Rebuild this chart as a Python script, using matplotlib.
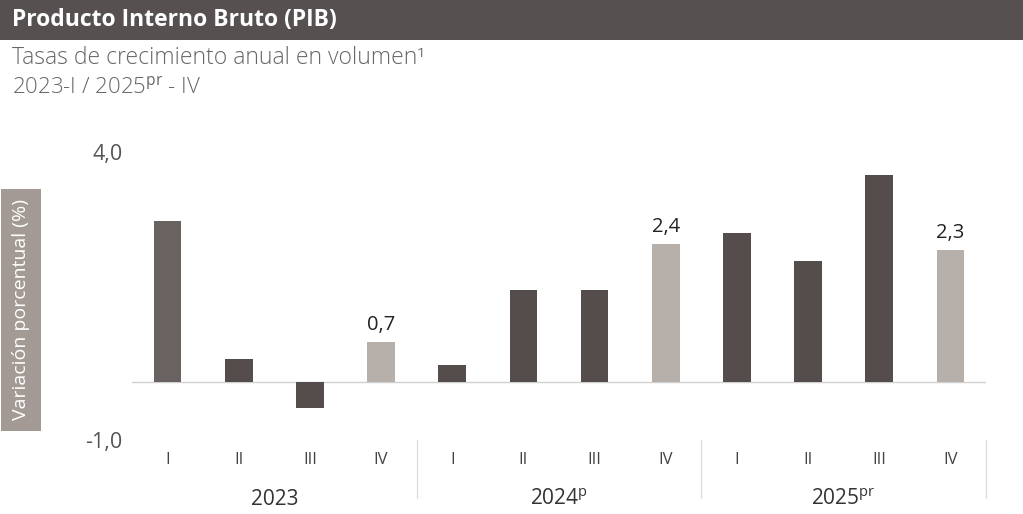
import matplotlib
matplotlib.use("Agg")
import matplotlib.pyplot as plt
from matplotlib.patches import Rectangle
from matplotlib.transforms import blended_transform_factory

plt.rcParams['font.family'] = ['Open Sans', 'DejaVu Sans']
plt.rcParams['mathtext.fontset'] = 'custom'
plt.rcParams['mathtext.rm'] = 'Open Sans'

quarters = ["I", "II", "III", "IV"] * 3
years = ["2023", "2024$^{\\mathrm{p}}$", "2025$^{\\mathrm{pr}}$"]
values = [2.8, 0.4, -0.45, 0.7, 0.3, 1.6, 1.6, 2.4, 2.6, 2.1, 3.6, 2.3]
labeled = {3: "0,7", 7: "2,4", 11: "2,3"}
ytick_vals = [-1.0, 4.0]
ytick_labels = ["-1,0", "4,0"]

W, H = 1023, 514
fig = plt.figure(figsize=(W / 100, H / 100), dpi=100)
fig.patch.set_facecolor("white")

# Title band
fig.patches.append(Rectangle((0, 1 - 40 / H), 1, 40 / H, transform=fig.transFigure,
                             facecolor="#575050", edgecolor="none", zorder=0))
fig.text(12 / W, 1 - 20 / H, "Producto Interno Bruto (PIB)", color="white",
         fontsize=16.5, fontweight="bold", va="center", ha="left")
fig.text(12 / W, 1 - 58 / H, "Tasas de crecimiento anual en volumen¹",
         color="#666666", fontsize=16.5, va="center", ha="left", fontweight="light")
fig.text(12 / W, 1 - 87 / H, "2023-I / 2025$^{\\mathrm{pr}}$ - IV",
         color="#666666", fontsize=16, va="center", ha="left", fontweight="light")

# Y label box
fig.text(21 / W, 1 - 310 / H, "Variación porcentual (%)", rotation=90,
         color="white", fontsize=14, va="center", ha="center",
         bbox=dict(boxstyle="square,pad=0.55", facecolor="#a39a95", edgecolor="none"))

ax_left, ax_right = 132 / W, 986 / W
ax_bottom, ax_top = 74 / H, 362 / H
ax = fig.add_axes([ax_left, ax_bottom, ax_right - ax_left, ax_top - ax_bottom])

x = list(range(len(values)))
colors = ["#b7afaa" if q == "IV" else "#554d4b" for q in quarters]
colors[0] = "#6a6260"
ax.bar(x, values, width=0.39, color=colors, zorder=2)
ax.axhline(0, color="#d0d0d0", lw=1, zorder=1)

for i, lab in labeled.items():
    ax.text(i, values[i] + 0.12, lab, ha="center", va="bottom", fontsize=14.5, color="#222222")

ax.set_xlim(-0.5, len(values) - 0.5)
ax.set_ylim(-1, 4)
ax.set_yticks(ytick_vals)
ax.set_yticklabels(ytick_labels)
ax.set_xticks(x)
ax.set_xticklabels(quarters)
ax.tick_params(axis="y", length=0, pad=7, labelsize=15.5, labelcolor="#555555")
ax.tick_params(axis="x", length=0, pad=9, labelsize=12, labelcolor="#444444")
for s in ax.spines.values():
    s.set_visible(False)

tr = blended_transform_factory(ax.transData, ax.transAxes)
for g, yr in enumerate(years):
    ax.text(g * 4 + 1.5, -0.208, yr, transform=tr, ha="center", va="center",
            fontsize=15, color="#333333")
for sep in [3.5, 7.5, 11.5]:
    ax.plot([sep, sep], [0, -0.2], transform=tr, color="#dcdcdc", lw=0.9, clip_on=False)

fig.savefig("out.png", dpi=100)
